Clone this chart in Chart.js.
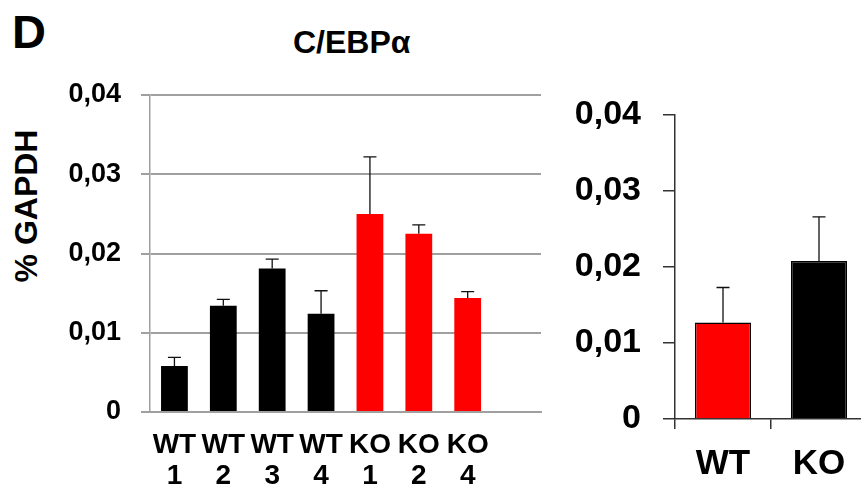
<!DOCTYPE html>
<html>
<head>
<meta charset="UTF-8">
<title>C/EBPα</title>
<script src="https://cdn.jsdelivr.net/npm/chart.js"></script>
<style>
    html, body { margin: 0; padding: 0; background: #fff; overflow: hidden; }
    body { width: 861px; height: 492px; position: relative; font-family: "Liberation Sans", Arial, sans-serif; font-weight: bold; color: #000; }
    .txt { position: absolute; line-height: 1; white-space: nowrap; }
    #panel { left: 12px; top: 8px; font-size: 47px; }
    #title { left: 293px; top: 26px; font-size: 32px; }
    #ylab { left: -74px; top: 190px; width: 200px; text-align: center; font-size: 32px; transform: rotate(-90deg); }
    #leftChart { position: absolute; left: 0; top: 0; }
    #rightChart { position: absolute; left: 560px; top: 0; }
</style>
</head>
<body>
<div class="txt" id="panel">D</div>
<div class="txt" id="title">C/EBPα</div>
<div class="txt" id="ylab">% GAPDH</div>
<canvas id="leftChart" width="545" height="492"></canvas>
<canvas id="rightChart" width="320" height="492"></canvas>

<script>
    // individual animals
    const leftLabels = [['WT', '1'], ['WT', '2'], ['WT', '3'], ['WT', '4'], ['KO', '1'], ['KO', '2'], ['KO', '4'], ''];
    const leftValues = [0.0058, 0.0134, 0.0181, 0.0124, 0.0250, 0.0225, 0.0144, null];
    const leftErrors = [0.0011, 0.0008, 0.0012, 0.0029, 0.0072, 0.0011, 0.0008, null];

    // group means
    const rightLabels = ['WT', 'KO'];
    const rightValues = [0.0127, 0.0208];
    const rightErrors = [0.0046, 0.0058];

    const yTicks = [0, 0.01, 0.02, 0.03, 0.04];

    Chart.defaults.font.family = '"Liberation Sans", Arial, sans-serif';
    Chart.defaults.font.weight = 'bold';
    Chart.defaults.color = '#000';

    const fmt = v => v === 0 ? '0' : v.toFixed(2).replace('.', ',');

    // draws upper error bars from dataset.errors
    const errorBars = {
        id: 'errorBars',
        afterDatasetsDraw(chart) {
            const ctx = chart.ctx;
            const yScale = chart.scales.y;
            chart.data.datasets.forEach((ds, di) => {
                const meta = chart.getDatasetMeta(di);
                meta.data.forEach((bar, i) => {
                    const v = ds.data[i], e = ds.errors[i];
                    if (v == null || e == null) return;
                    const yTop = yScale.getPixelForValue(v + e);
                    ctx.save();
                    ctx.strokeStyle = '#111';
                    ctx.lineWidth = 1.3;
                    ctx.beginPath();
                    ctx.moveTo(bar.x, bar.y);
                    ctx.lineTo(bar.x, yTop);
                    ctx.moveTo(bar.x - 6.5, yTop);
                    ctx.lineTo(bar.x + 6.5, yTop);
                    ctx.stroke();
                    ctx.restore();
                });
            });
        }
    };

    new Chart(document.getElementById('leftChart'), {
        type: 'bar',
        data: {
            labels: leftLabels,
            datasets: [{
                data: leftValues,
                errors: leftErrors,
                backgroundColor: c => {
                    const l = leftLabels[c.dataIndex];
                    return l && l[0] === 'KO' ? '#ff0000' : '#000000';
                },
                borderWidth: 0,
                categoryPercentage: 1,
                barPercentage: 0.548
            }]
        },
        options: {
            responsive: false,
            animation: false,
            layout: { padding: { top: 95, right: 4, left: 0, bottom: 0 } },
            plugins: { legend: { display: false }, tooltip: { enabled: false } },
            scales: {
                x: {
                    grid: { display: false, drawTicks: false },
                    border: { color: '#a0a0a0', width: 2 },
                    ticks: { font: { size: 28, lineHeight: 1.1 }, padding: 18, maxRotation: 0, autoSkip: false },
                    afterFit: s => { s.height = 80; }
                },
                y: {
                    min: 0, max: 0.04,
                    afterBuildTicks: s => { s.ticks = yTicks.map(v => ({ value: v })); },
                    grid: { color: '#a0a0a0', lineWidth: 2, tickLength: 9 },
                    border: { color: '#a0a0a0', width: 1.5 },
                    ticks: { font: { size: 27 }, padding: 20, callback: fmt },
                    afterFit: s => { s.width = 150; }
                }
            }
        },
        plugins: [errorBars]
    });

    new Chart(document.getElementById('rightChart'), {
        type: 'bar',
        data: {
            labels: rightLabels,
            datasets: [{
                data: rightValues,
                errors: rightErrors,
                backgroundColor: c => rightLabels[c.dataIndex] === 'WT' ? '#ff0000' : '#000000',
                borderColor: '#000',
                borderWidth: 1.5,
                categoryPercentage: 1,
                barPercentage: 0.585
            }]
        },
        options: {
            responsive: false,
            animation: false,
            layout: { padding: { top: 115, right: 13, left: 0, bottom: 0 } },
            plugins: { legend: { display: false }, tooltip: { enabled: false } },
            scales: {
                x: {
                    grid: { drawOnChartArea: false, offset: true, tickLength: 10, color: '#333', lineWidth: 1.5 },
                    border: { color: '#333', width: 1.5 },
                    ticks: { font: { size: 35 }, padding: 14, maxRotation: 0 },
                    afterFit: s => { s.height = 73; }
                },
                y: {
                    min: 0, max: 0.04,
                    afterBuildTicks: s => { s.ticks = yTicks.map(v => ({ value: v })); },
                    grid: { drawOnChartArea: false, tickLength: 12, color: '#333', lineWidth: 1.5 },
                    border: { color: '#333', width: 1.5 },
                    ticks: { font: { size: 34 }, padding: 22, callback: fmt },
                    afterFit: s => { s.width = 115; }
                }
            }
        },
        plugins: [errorBars]
    });
</script>
</body>
</html>
